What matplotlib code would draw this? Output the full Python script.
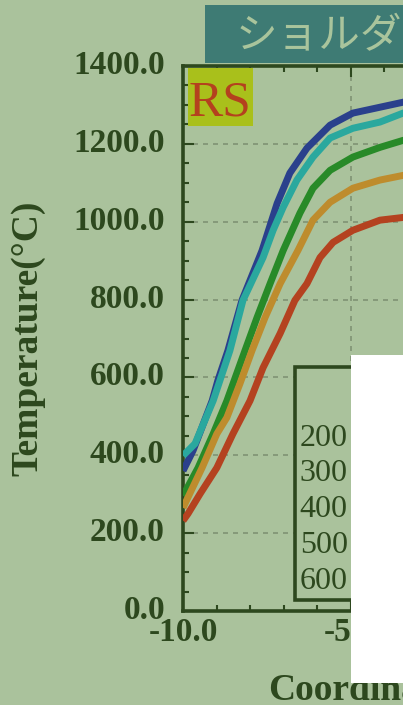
import matplotlib
matplotlib.use("Agg")
import matplotlib.pyplot as plt
import matplotlib.transforms as mtransforms
from matplotlib.patches import Rectangle
from matplotlib.ticker import MultipleLocator, FormatStrFormatter

# ---- data -------------------------------------------------------------
series_labels = ["200", "300", "400", "500", "600"]

x_blue = [-10.0, -9.70, -9.13, -8.96, -8.66, -8.24, -7.64, -7.19, -6.81, -6.30, -5.61, -4.93, -3.43, -3.2]
t_blue = [360, 412, 540, 592, 669, 798, 926, 1047, 1125, 1189, 1248, 1279, 1307, 1312]

x_cyan = [-10.0, -9.64, -9.10, -8.60, -8.21, -7.61, -7.31, -7.01, -6.60, -6.12, -5.61, -4.93, -4.12, -3.43, -3.2]
t_cyan = [399, 430, 540, 669, 798, 908, 978, 1037, 1107, 1166, 1215, 1240, 1256, 1279, 1283]

x_green = [-10.0, -9.55, -9.10, -8.69, -8.15, -7.79, -7.40, -7.01, -6.51, -6.12, -5.61, -4.93, -4.12, -3.43, -3.2]
t_green = [296, 368, 455, 540, 669, 754, 841, 926, 1022, 1086, 1132, 1166, 1191, 1209, 1212]

x_orange = [-10.0, -9.43, -8.99, -8.69, -8.30, -7.94, -7.55, -7.10, -6.57, -6.12, -5.61, -4.93, -4.12, -3.43, -3.2]
t_orange = [265, 368, 455, 497, 584, 669, 754, 841, 926, 1004, 1050, 1086, 1107, 1119, 1121]

x_red = [-10.0, -9.85, -9.49, -8.99, -8.51, -8.00, -7.61, -7.10, -6.66, -6.30, -5.91, -5.52, -4.93, -4.12, -3.43, -3.2]
t_red = [232, 250, 301, 368, 455, 540, 625, 713, 798, 841, 908, 947, 978, 1004, 1011, 1013]

x_range = (-10.0, 10.0)
t_range = (0.0, 1400.0)

# ---- style ------------------------------------------------------------
BG = "#aac29c"
INK = "#2d481e"
GRID = "#7f9274"
TEAL = "#3e7b74"
colors = ["#2a408c", "#2aa89e", "#288a28", "#be8c2d", "#b44220"]

plt.rcParams["axes.unicode_minus"] = False
SERIF = ["Liberation Serif", "DejaVu Serif"]

W, H = 403, 705
fig = plt.figure(figsize=(W / 100, H / 100), dpi=100, facecolor=BG)

ax_left, ax_top, ax_bottom = 183, 66, 611
ax_w_px = 670
ax_h_px = ax_bottom - ax_top
ax = fig.add_axes([ax_left / W, (H - ax_bottom) / H, ax_w_px / W, ax_h_px / H])
ax.set_facecolor(BG)

lines = []
for xs, ts, c, lab in zip([x_blue, x_cyan, x_green, x_orange, x_red],
                          [t_blue, t_cyan, t_green, t_orange, t_red],
                          colors, series_labels):
    ln, = ax.plot(xs, ts, color=c, lw=5.0, label=lab, solid_joinstyle="round",
                  solid_capstyle="butt", zorder=3)
    lines.append(ln)

ax.set_xlim(*x_range)
ax.set_ylim(*t_range)

ax.xaxis.set_major_locator(MultipleLocator(5))
ax.xaxis.set_minor_locator(MultipleLocator(1))
ax.yaxis.set_major_locator(MultipleLocator(200))
ax.yaxis.set_minor_locator(MultipleLocator(50))
ax.xaxis.set_major_formatter(FormatStrFormatter("%.1f"))
ax.yaxis.set_major_formatter(FormatStrFormatter("%.1f"))

ax.grid(True, which="major", color=GRID, lw=1.2, ls=(0, (3, 3)), zorder=1)
ax.set_axisbelow(True)

for sp in ax.spines.values():
    sp.set_color(INK)
    sp.set_linewidth(2.6)

ax.tick_params(which="both", direction="in", top=True, right=True, color=INK,
               labelcolor=INK, width=1.5)
ax.tick_params(which="major", length=8)
ax.tick_params(which="minor", length=4.3)
ax.tick_params(axis="y", pad=13)
ax.tick_params(axis="x", pad=4)

for lab in ax.get_xticklabels() + ax.get_yticklabels():
    lab.set_fontfamily(SERIF)
    lab.set_fontweight("bold")
    lab.set_fontsize(24)

shift_up = mtransforms.ScaledTranslation(0, 0.04, fig.dpi_scale_trans)
for lab in ax.get_yticklabels():
    lab.set_transform(lab.get_transform() + shift_up)

ax.set_ylabel("Temperature(°C)", family=SERIF, fontweight="bold", fontsize=27, color=INK)
ax.yaxis.set_label_coords((45 - ax_left) / ax_w_px, 0.5)
ax.set_xlabel("Coordinate(mm)", family=SERIF, fontweight="bold", fontsize=27, color=INK,
              ha="left")
ax.xaxis.set_label_coords((268 - ax_left) / ax_w_px, -(673 - ax_bottom) / ax_h_px)

leg = ax.legend(handles=lines, labels=series_labels, loc="upper left",
                bbox_to_anchor=((295 - ax_left) / ax_w_px, (ax_bottom - 367) / ax_h_px),
                markerfirst=False, frameon=True, fancybox=False, framealpha=1,
                facecolor=BG, edgecolor=INK, title=" ", title_fontsize=34,
                prop={"family": SERIF, "size": 23}, labelspacing=0.2,
                borderpad=0.15, borderaxespad=0, handlelength=2.5)
leg.get_frame().set_linewidth(2.6)
for t in leg.get_texts():
    t.set_color(INK)
leg.set_zorder(5)

# corner tag
fig.add_artist(Rectangle((188 / W, 1 - 126 / H), 65 / W, 58 / H, transform=fig.transFigure,
                         facecolor="#a9c01b", edgecolor="none", zorder=4))
fig.text(189 / W, 1 - 116 / H, "RS", family=SERIF, fontsize=37, color="#b4411e",
         va="baseline", ha="left", zorder=5)

# heading banner
fig.add_artist(Rectangle((205 / W, 1 - 63 / H), 300 / W, 58 / H, transform=fig.transFigure,
                         facecolor=TEAL, edgecolor="none", zorder=4))
fig.text(236 / W, 1 - 37 / H, "ショルダー", family=["Noto Sans CJK JP", "DejaVu Sans"],
         fontsize=30, color="#a9c49c", va="center", ha="left", zorder=5)

# blank panel
fig.add_artist(Rectangle((351 / W, 1 - 683 / H), 100 / W, (683 - 355) / H, transform=fig.transFigure,
                         facecolor="white", edgecolor="none", zorder=10))

fig.savefig("out.png", dpi=100, facecolor=BG)
